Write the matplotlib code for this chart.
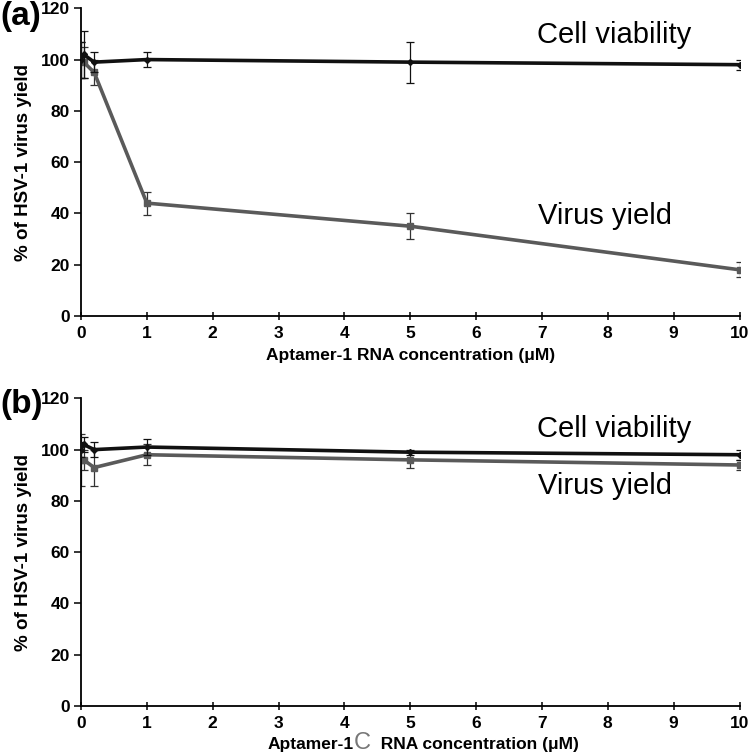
import matplotlib.pyplot as plt
from matplotlib.offsetbox import TextArea, HPacker, AnchoredOffsetbox

plt.rcParams['font.family'] = ['Liberation Sans', 'DejaVu Sans']

# concentrations (uM)
conc = [0, 0.04, 0.2, 1, 5, 10]

# panel (a) aptamer-1
cell_a = [100, 102, 99, 100, 99, 98]
cell_a_err = [7, 9, 4, 3, 8, 2]
virus_a = [100, 99, 95, 44, 35, 18]
virus_a_err = [7, 6, 5, 4.5, 5, 3]

# panel (b) aptamer-1C
cell_b = [100, 102, 100, 101, 99, 98]
cell_b_err = [3, 3, 3, 3, 1, 2]
virus_b = [96, 96, 93, 98, 96, 94]
virus_b_err = [10, 4, 7, 4, 3, 2]

yticks = [0, 20, 40, 60, 80, 100, 120]
xticks = [0, 1, 2, 3, 4, 5, 6, 7, 8, 9, 10]

fig = plt.figure(figsize=(7.5, 7.54), dpi=100)
ax1 = fig.add_axes([0.108, 0.581, 0.878, 0.408])
ax2 = fig.add_axes([0.108, 0.0637, 0.878, 0.408])

black = '#111111'
gray = '#5a5a5a'

for ax, cell, cerr, vir, verr in [(ax1, cell_a, cell_a_err, virus_a, virus_a_err),
                                  (ax2, cell_b, cell_b_err, virus_b, virus_b_err)]:
    ax.errorbar(conc, vir, yerr=verr, color=gray, lw=2.6, marker='s', ms=4,
                ecolor='#333333', elinewidth=0.9, capsize=3, capthick=0.9, zorder=2)
    ax.errorbar(conc, cell, yerr=cerr, color=black, lw=2.6, marker='D', ms=3,
                ecolor='#111111', elinewidth=0.9, capsize=3, capthick=0.9, zorder=3)
    ax.set_xlim(0, 10)
    ax.set_ylim(0, 120)
    ax.set_xticks(xticks)
    ax.set_yticks(yticks)
    ax.spines['top'].set_visible(False)
    ax.spines['right'].set_visible(False)
    ax.spines['left'].set_linewidth(1.3)
    ax.spines['bottom'].set_linewidth(1.3)
    ax.tick_params(axis='y', direction='out', length=5, width=1.1, labelsize=12.5, pad=3)
    ax.tick_params(axis='x', direction='inout', length=6, width=1.1, labelsize=12.5, pad=4)
    for lab in ax.get_xticklabels() + ax.get_yticklabels():
        lab.set_fontweight('bold')
    ax.set_ylabel('% of HSV-1 virus yield', fontsize=13.5, fontweight='bold', labelpad=6)

ax1.set_xlabel('Aptamer-1 RNA concentration (\u03bcM)', fontsize=12.5, fontweight='bold', labelpad=5)

# multi-colour x label for panel (b)
parts = HPacker(children=[
    TextArea('Aptamer-1', textprops=dict(fontsize=12.5, fontweight='bold', color='black')),
    TextArea('C', textprops=dict(fontsize=17, color='#777777')),
    TextArea('  RNA concentration (\u03bcM)', textprops=dict(fontsize=12.5, fontweight='bold', color='black')),
], align='baseline', pad=0, sep=0)
box = AnchoredOffsetbox(loc='upper center', child=parts, pad=0, frameon=False,
                        bbox_to_anchor=(0.52, -0.085), bbox_transform=ax2.transAxes,
                        borderpad=0)
ax2.add_artist(box)

ax1.text(8.1, 109.5, 'Cell viability', fontsize=21, ha='center', va='center')
ax1.text(7.95, 39, 'Virus yield', fontsize=21, ha='center', va='center')
ax2.text(8.1, 108, 'Cell viability', fontsize=21, ha='center', va='center')
ax2.text(7.95, 86, 'Virus yield', fontsize=21, ha='center', va='center')

fig.text(0.0, 0.978, '(a)', fontsize=24, fontweight='bold', va='center', ha='left')
fig.text(0.0, 0.463, '(b)', fontsize=24, fontweight='bold', va='center', ha='left')

fig.savefig('out.png', dpi=100)
